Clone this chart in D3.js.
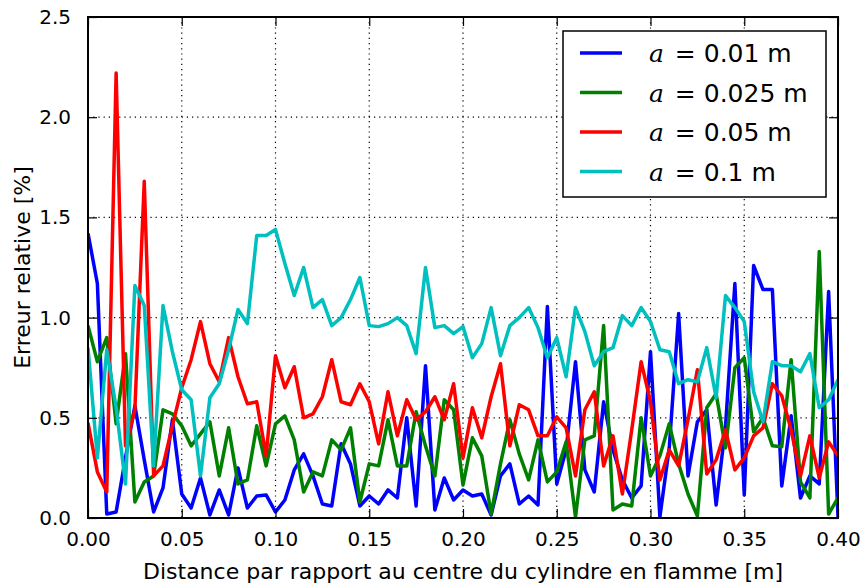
<!DOCTYPE html>
<html>
<head>
<meta charset="utf-8">
<script src="https://cdn.jsdelivr.net/npm/d3@7"></script>
<style>
  body { margin: 0; background: #fff; }
  svg { font-family: "DejaVu Sans", sans-serif; }
</style>
</head>
<body>
<svg id="chart"></svg>
<script>
const width = 867;
const height = 588;

// sample positions along the radius [m]
const distance = d3.range(81).map(i => +(i * 0.005).toFixed(3));

const err001 = [1.42, 1.17, 0.02, 0.03, 0.30, 0.56, 0.29, 0.03, 0.15, 0.49,
  0.12, 0.05, 0.20, 0.015, 0.14, 0.015, 0.25, 0.05, 0.11, 0.115,
  0.03, 0.09, 0.24, 0.32, 0.21, 0.07, 0.06, 0.37, 0.27, 0.06,
  0.11, 0.07, 0.14, 0.10, 0.50, 0.06, 0.76, 0.04, 0.20, 0.09,
  0.14, 0.11, 0.12, 0.015, 0.21, 0.27, 0.07, 0.11, 0.065, 1.055,
  0.17, 0.34, 0.78, 0.24, 0.13, 0.58, 0.34, 0.19, 0.10, 0.16,
  0.83, 0.005, 0.35, 1.02, 0.21, 0.48, 0.54, 0.065, 0.455, 1.17,
  0.115, 1.26, 1.14, 1.14, 0.16, 0.51, 0.10, 0.21, 0.17, 1.13, 0.005];

const err0025 = [0.96, 0.78, 0.90, 0.47, 0.82, 0.08, 0.18, 0.21, 0.54, 0.52,
  0.46, 0.36, 0.42, 0.48, 0.21, 0.45, 0.17, 0.19, 0.46, 0.26,
  0.47, 0.51, 0.39, 0.13, 0.23, 0.21, 0.39, 0.34, 0.45, 0.08,
  0.27, 0.26, 0.49, 0.26, 0.26, 0.53, 0.36, 0.21, 0.59, 0.54,
  0.165, 0.40, 0.31, 0.02, 0.27, 0.49, 0.32, 0.19, 0.39, 0.18,
  0.23, 0.38, 0.005, 0.39, 0.41, 0.96, 0.04, 0.07, 0.06, 0.50,
  0.21, 0.31, 0.47, 0.27, 0.12, 0.01, 0.55, 0.62, 0.35, 0.75,
  0.80, 0.43, 0.50, 0.36, 0.355, 0.79, 0.18, 0.10, 1.33, 0.02, 0.10];

const err005 = [0.475, 0.23, 0.13, 2.22, 0.36, 0.54, 1.68, 0.21, 0.26, 0.46,
  0.65, 0.79, 0.98, 0.77, 0.68, 0.90, 0.705, 0.57, 0.58, 0.31,
  0.81, 0.65, 0.755, 0.50, 0.52, 0.605, 0.79, 0.58, 0.565, 0.67,
  0.58, 0.37, 0.63, 0.41, 0.59, 0.49, 0.53, 0.605, 0.49, 0.67,
  0.30, 0.55, 0.40, 0.605, 0.77, 0.36, 0.565, 0.54, 0.41, 0.41,
  0.505, 0.45, 0.21, 0.54, 0.63, 0.26, 0.41, 0.12, 0.44, 0.78,
  0.58, 0.19, 0.34, 0.26, 0.49, 0.74, 0.22, 0.29, 0.44, 0.24,
  0.30, 0.41, 0.45, 0.67, 0.61, 0.44, 0.21, 0.41, 0.20, 0.38, 0.31];

const err01 = [0.85, 0.30, 0.84, 0.55, 0.17, 1.16, 1.06, 0.26, 1.06, 0.83,
  0.64, 0.59, 0.21, 0.60, 0.67, 0.84, 1.04, 0.97, 1.41, 1.41,
  1.44, 1.27, 1.11, 1.25, 1.05, 1.09, 0.96, 1.00, 1.09, 1.20,
  0.96, 0.955, 0.97, 1.00, 0.96, 0.82, 1.25, 0.95, 0.96, 0.92,
  0.955, 0.80, 0.87, 1.05, 0.81, 0.96, 1.00, 1.05, 0.95, 0.80,
  0.90, 0.705, 1.05, 0.93, 0.76, 0.83, 0.85, 1.01, 0.96, 1.05,
  0.98, 0.84, 0.83, 0.67, 0.69, 0.68, 0.85, 0.60, 1.11, 1.05,
  0.98, 0.63, 0.48, 0.78, 0.76, 0.76, 0.73, 0.82, 0.55, 0.59, 0.69];

const seriesNames = ["0.01", "0.025", "0.05", "0.1"];
const seriesValues = [err001, err0025, err005, err01];
const seriesColors = ["#0000ff", "#008000", "#ff0000", "#00bfbf"];

const xTicks = [0, 0.05, 0.1, 0.15, 0.2, 0.25, 0.3, 0.35, 0.4];
const yTicks = [0, 0.5, 1.0, 1.5, 2.0, 2.5];

const margin = {top: 17, right: 29, bottom: 70, left: 88};
const plotW = width - margin.left - margin.right;
const plotH = height - margin.top - margin.bottom;

const svg = d3.select("#chart")
  .attr("width", width)
  .attr("height", height);

const x = d3.scaleLinear().domain([0, 0.4]).range([0, plotW]);
const y = d3.scaleLinear().domain([0, 2.5]).range([plotH, 0]);

const g = svg.append("g")
  .attr("transform", `translate(${margin.left},${margin.top})`);

g.append("clipPath").attr("id", "clip")
  .append("rect").attr("width", plotW).attr("height", plotH);

// dotted grid
g.append("g")
  .selectAll("line")
  .data(xTicks.slice(1, -1))
  .join("line")
  .attr("x1", d => x(d)).attr("x2", d => x(d))
  .attr("y1", 0).attr("y2", plotH)
  .attr("stroke", "#000").attr("stroke-width", 1.2)
  .attr("stroke-dasharray", "1.2,4");

g.append("g")
  .selectAll("line")
  .data(yTicks.slice(1, -1))
  .join("line")
  .attr("x1", 0).attr("x2", plotW)
  .attr("y1", d => y(d)).attr("y2", d => y(d))
  .attr("stroke", "#000").attr("stroke-width", 1.2)
  .attr("stroke-dasharray", "1.2,4");

const line = d3.line()
  .x((d, i) => x(distance[i]))
  .y(d => y(d));

g.append("g")
  .attr("clip-path", "url(#clip)")
  .selectAll("path")
  .data(seriesValues)
  .join("path")
  .attr("d", line)
  .attr("fill", "none")
  .attr("stroke", (d, i) => seriesColors[i])
  .attr("stroke-width", 3.5)
  .attr("stroke-linejoin", "round");

// axes, ticks pointing inward
const fmtX = d3.format(".2f");
const fmtY = d3.format(".1f");

g.append("g")
  .attr("transform", `translate(0,${plotH})`)
  .call(d3.axisBottom(x).tickValues(xTicks).tickFormat(fmtX).tickSize(-9).tickPadding(14));
g.append("g")
  .call(d3.axisLeft(y).tickValues(yTicks).tickFormat(fmtY).tickSize(-9).tickPadding(17));
g.append("g")
  .call(d3.axisTop(x).tickValues(xTicks).tickFormat("").tickSize(-9));
g.append("g")
  .attr("transform", `translate(${plotW},0)`)
  .call(d3.axisRight(y).tickValues(yTicks).tickFormat("").tickSize(-9));

g.selectAll(".domain").remove();
g.selectAll(".tick line").attr("stroke", "#000").attr("stroke-width", 1.2);
g.selectAll(".tick text")
  .attr("font-family", "DejaVu Sans")
  .attr("font-size", 20)
  .attr("fill", "#000");

g.append("rect")
  .attr("width", plotW).attr("height", plotH)
  .attr("fill", "none").attr("stroke", "#000").attr("stroke-width", 2);

// axis labels
svg.append("text")
  .attr("x", margin.left + plotW / 2)
  .attr("y", 579)
  .attr("text-anchor", "middle")
  .attr("font-size", 22)
  .text("Distance par rapport au centre du cylindre en flamme [m]");

svg.append("text")
  .attr("transform", `translate(30,${margin.top + plotH / 2}) rotate(-90)`)
  .attr("text-anchor", "middle")
  .attr("font-size", 22)
  .text("Erreur relative [%]");

// legend
const legend = svg.append("g").attr("transform", "translate(563,31)");
legend.append("rect")
  .attr("width", 263).attr("height", 166)
  .attr("fill", "#fff").attr("stroke", "#000").attr("stroke-width", 1.5);

const item = legend.selectAll("g.item")
  .data(seriesNames)
  .join("g")
  .attr("class", "item")
  .attr("transform", (d, i) => `translate(0,${22 + i * 39.5})`);

item.append("line")
  .attr("x1", 17).attr("x2", 59)
  .attr("stroke", (d, i) => seriesColors[i])
  .attr("stroke-width", 3.5);

const label = item.append("text")
  .attr("x", 86)
  .attr("y", 9)
  .attr("font-size", 25);
label.append("tspan")
  .attr("font-family", "DejaVu Serif")
  .attr("font-style", "italic")
  .text("a");
label.append("tspan")
  .attr("dx", 3)
  .text(d => ` = ${d} m`);
</script>
</body>
</html>
